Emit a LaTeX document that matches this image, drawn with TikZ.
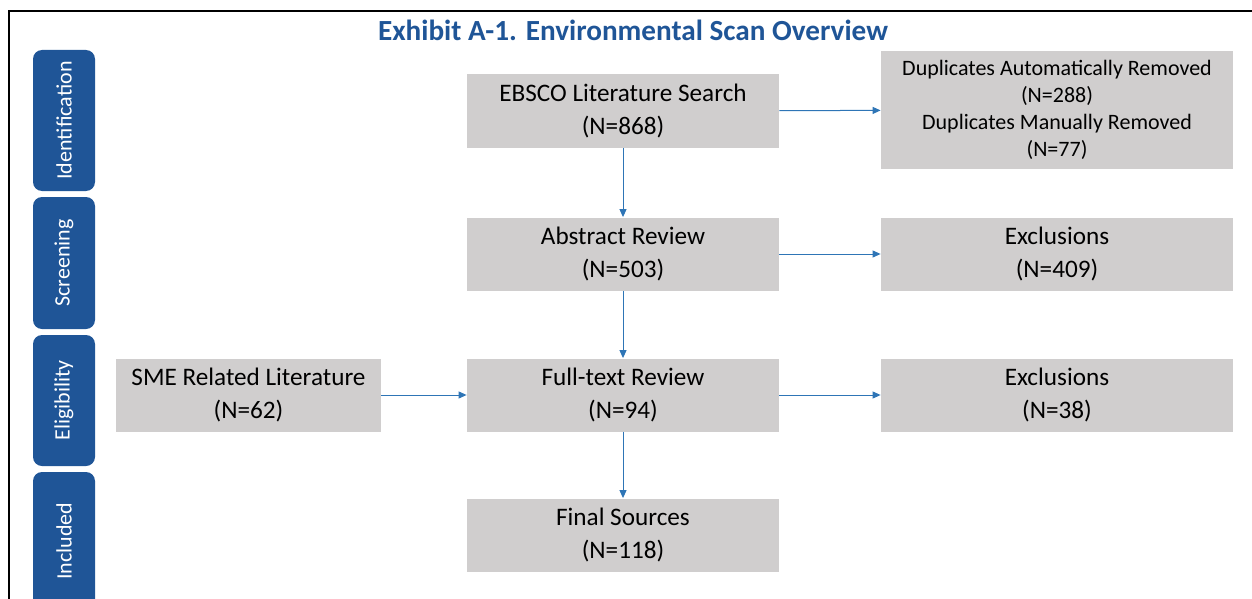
\documentclass[tikz,border=0pt]{standalone}
\usepackage{fontspec}
\setmainfont{Carlito}
\usetikzlibrary{arrows.meta}
\definecolor{tabblue}{HTML}{1F5597}
\definecolor{boxgray}{HTML}{D0CECE}
\definecolor{arrowblue}{HTML}{2E75B6}

\begin{document}
\begin{tikzpicture}[x=0.5pt, y=-0.5pt]
    \tikzstyle{box} = [fill=boxgray, minimum width=156pt, minimum height=36.5pt, inner sep=0pt, align=center, font=\fontsize{12.6}{16.5}\selectfont]
    \tikzstyle{side} = [box, minimum width=176pt]
    \tikzstyle{tab} = [fill=tabblue, rounded corners=4.5pt, minimum height=31pt, inner sep=0pt, text=white, rotate=90, font=\fontsize{11}{13}\selectfont]
    \tikzstyle{flow} = [draw=arrowblue, line width=0.5pt, -{Triangle[length=4pt, width=3.5pt]}]

    \clip (0,0) rectangle (1252,599);

    % Frame and title
    \draw[line width=1.1pt] (9,599) -- (9,11) -- (1252,11);
    \node[font=\fontsize{14.6}{17}\selectfont\bfseries, text=tabblue] (title) at (633,30) {Exhibit A-1. Environmental Scan Overview};

    % Phase tabs (left column)
    \node[tab, minimum width=70.5pt] (ident) at (64,120.5) {Identification};
    \node[tab, minimum width=66pt] (screen) at (64,263) {Screening};
    \node[tab, minimum width=65.5pt] (elig) at (64,400.5) {Eligibility};
    \node[tab, minimum width=69pt] (incl) at (64,541) {Included};

    % Main flow (middle column)
    \node[box] (ebsco) at (623,111) {EBSCO Literature Search\\(N=868)};
    \node[box] (abstract) at (623,254) {Abstract Review\\(N=503)};
    \node[box] (fulltext) at (623,395) {Full-text Review\\(N=94)};
    \node[box] (final) at (623,535) {Final Sources\\(N=118)};

    % Extra source
    \node[box, minimum width=132.5pt] (sme) at (248.5,395) {SME Related Literature\\(N=62)};

    % Removed records (right column)
    \node[side, minimum height=59pt, font=\fontsize{11}{13.5}\selectfont] (dups) at (1057,110) {Duplicates Automatically Removed\\(N=288)\\Duplicates Manually Removed\\(N=77)};
    \node[side] (excl1) at (1057,254) {Exclusions\\(N=409)};
    \node[side] (excl2) at (1057,395) {Exclusions\\(N=38)};

    \draw[flow] (ebsco) -- (dups);
    \draw[flow] (ebsco) -- (abstract);
    \draw[flow] (abstract) -- (excl1);
    \draw[flow] (abstract) -- (fulltext);
    \draw[flow] (sme) -- (fulltext);
    \draw[flow] (fulltext) -- (excl2);
    \draw[flow] (fulltext) -- (final);
\end{tikzpicture}
\end{document}
